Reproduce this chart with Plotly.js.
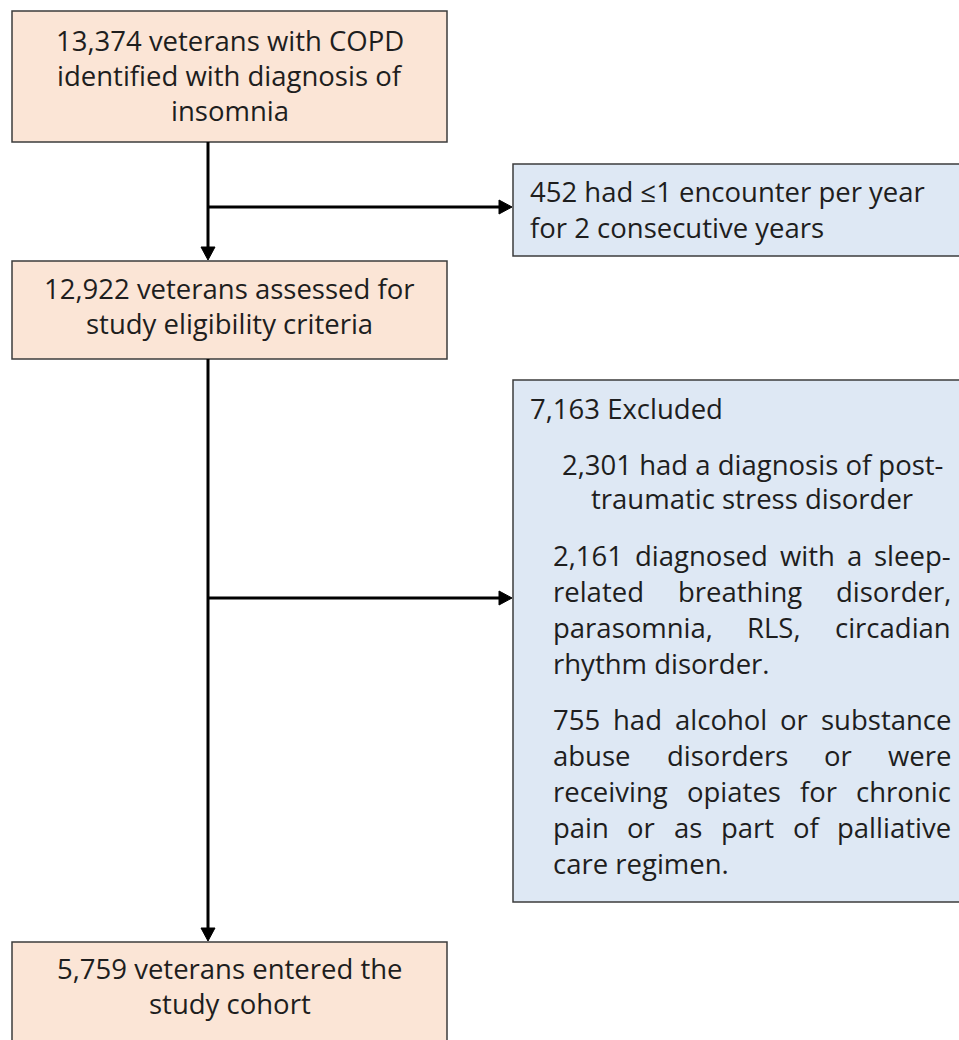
<!DOCTYPE html>
<html><head><meta charset="utf-8">
<script src="https://cdn.plot.ly/plotly-3.0.1.min.js"></script>
<style>html,body{margin:0;padding:0;background:#fff}</style>
</head><body>
<div id="chart" style="width:959px;height:1040px"></div>
<script>
// ---- data (flow counts and texts) ----
const stepCounts = [13374, 12922, 5759];
const excludedCounts = [452, 7163, 2301, 2161, 755];
const box1Lines = ["13,374 veterans with COPD", "identified with diagnosis of", "insomnia"];
const box2Lines = ["12,922 veterans assessed for", "study eligibility criteria"];
const box3Lines = ["5,759 veterans entered the", "study cohort"];
const excl1Lines = ["452 had \u22641 encounter per year", "for 2 consecutive years"];
const excl2Title = "7,163 Excluded";
const excl2ParaA = ["2,301 had a diagnosis of post-", "traumatic stress disorder"];
const excl2ParaB = ["2,161 diagnosed with a sleep-", "related breathing disorder,", "parasomnia, RLS, circadian", "rhythm disorder."];
const excl2ParaC = ["755 had alcohol or substance", "abuse disorders or were", "receiving opiates for chronic", "pain or as part of palliative", "care regimen."];

// ---- layout / style ----
const W = 959, H = 1040;
const FONT = '"Open Sans", sans-serif';
const FS = 27.5;
const TXT = '#1e1e1e';
const PEACH = '#fbe5d6', BLUE = '#dee8f4', EDGE = '#3c3c3c';
const LH = 36;

const shapes = [], annotations = [];
function box(x0, y0, x1, y1, fill) {
  shapes.push({type:'rect', xref:'x', yref:'y', x0, y0, x1, y1, fillcolor: fill, line:{color:EDGE, width:1.5}, layer:'below'});
}
function txt(text, x, y, anchor) {
  annotations.push({text, x, y, xref:'x', yref:'y', xanchor: anchor, yanchor:'middle', showarrow:false,
    borderpad:0, borderwidth:0, font:{family:FONT, size:FS, color:TXT}});
}
function line(x0, y0, x1, y1) {
  shapes.push({type:'line', xref:'x', yref:'y', x0, y0, x1, y1, line:{color:'#000', width:3}});
}
function headRight(x, y) {
  shapes.push({type:'path', xref:'x', yref:'y', path:`M ${x} ${y} L ${x-13} ${y-7} L ${x-13} ${y+7} Z`, fillcolor:'#000', line:{color:'#000', width:1}});
}
function headDown(x, y) {
  shapes.push({type:'path', xref:'x', yref:'y', path:`M ${x} ${y} L ${x-7} ${y-13} L ${x+7} ${y-13} Z`, fillcolor:'#000', line:{color:'#000', width:1}});
}
const cv = document.createElement('canvas').getContext('2d');
cv.font = `${FS}px "Open Sans"`;
function justify(lineText, xl, xr, y) {
  const words = lineText.split(' ');
  const ws = words.map(w => cv.measureText(w).width);
  const gap = (xr - xl - ws.reduce((a,b)=>a+b,0)) / (words.length - 1);
  let x = xl;
  words.forEach((w, i) => { txt(w, x, y, 'left'); x += ws[i] + gap; });
}

// main boxes
const MX0 = 12, MX1 = 447, MCX = (MX0 + MX1) / 2;
box(MX0, 11, MX1, 142, PEACH);
box(MX0, 261, MX1, 359, PEACH);
box(MX0, 942, MX1, 1046, PEACH);
box1Lines.forEach((t, i) => txt(t, MCX, 40 + i * 35, 'center'));
box2Lines.forEach((t, i) => txt(t, MCX, 288 + i * 35, 'center'));
box3Lines.forEach((t, i) => txt(t, MCX, 968 + i * 35, 'center'));

// exclusion boxes
const EX0 = 513, EX1 = 962;
box(EX0, 164, EX1, 256, BLUE);
box(EX0, 380, EX1, 902, BLUE);
excl1Lines.forEach((t, i) => txt(t, 530, 191 + i * 36, 'left'));
txt(excl2Title, 530, 408, 'left');
const PL = 553, PR = 951;
excl2ParaA.forEach((t, i) => txt(t, (PL + PR) / 2, 464 + i * 34, 'center'));
excl2ParaB.forEach((t, i) => {
  const y = 555 + i * LH;
  if (i < excl2ParaB.length - 1) justify(t, PL, PR, y); else txt(t, PL, y, 'left');
});
excl2ParaC.forEach((t, i) => {
  const y = 719 + i * LH;
  if (i < excl2ParaC.length - 1) justify(t, PL, PR, y); else txt(t, PL, y, 'left');
});

// connectors
const VX = 208;
line(VX, 142, VX, 248); headDown(VX, 260);
line(VX, 207, 500, 207); headRight(512, 207);
line(VX, 359, VX, 929); headDown(VX, 941);
line(VX, 598, 500, 598); headRight(512, 598);

const layout = {
  width: W, height: H, margin:{l:0, r:0, t:0, b:0},
  paper_bgcolor:'#fff', plot_bgcolor:'#fff',
  xaxis:{range:[0, W], visible:false, fixedrange:true},
  yaxis:{range:[H, 0], visible:false, fixedrange:true},
  shapes, annotations, showlegend:false
};
Plotly.newPlot('chart', [], layout, {displayModeBar:false, staticPlot:true});
</script>
</body></html>
